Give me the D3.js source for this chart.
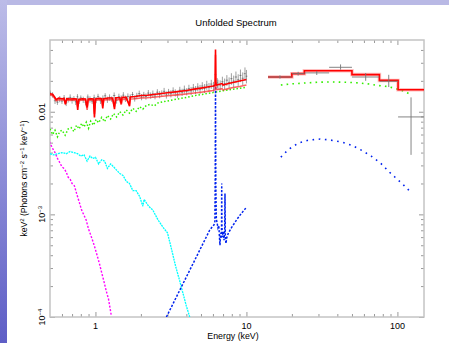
<!DOCTYPE html>
<html><head><meta charset="utf-8">
<script src="https://cdn.jsdelivr.net/npm/d3@7"></script>
<style>body{margin:0;background:#fff}svg{display:block}text{font-family:"Liberation Sans",Arial,Helvetica,sans-serif;fill:#000}</style>
</head><body><svg id="c" width="449" height="343"></svg>
<script>
// ---------- data ----------
const title = "Unfolded Spectrum";
const xLabel = "Energy (keV)";
const xMajor = [1, 10, 100];
const xMajorLabels = ["1", "10", "100"];
const xMinor = [0.6,0.7,0.8,0.9,2,3,4,5,6,7,8,9,20,30,40,50,60,70,80,90];
const yMajor = [1e-4, 1e-3, 0.01];
const yMajorLabels = [["10","−4"],["10","−3"],["0.01",""]];
const yMinor = [2e-4,3e-4,4e-4,5e-4,6e-4,7e-4,8e-4,9e-4,2e-3,3e-3,4e-3,5e-3,6e-3,7e-3,8e-3,9e-3,0.02,0.03,0.04];

// black data, 0.5-10 keV (energy, value, fractional error)
const blackE = [0.50,0.52,0.54,0.56,0.58,0.60,0.62,0.64,0.66,0.68,0.70,0.72,0.74,0.76,0.78,0.80,0.83,0.86,0.89,0.92,0.95,0.98,1.01,1.04,1.08,1.12,1.16,1.20,1.24,1.28,1.33,1.38,1.43,1.48,1.53,1.58,1.64,1.70,1.76,1.82,1.88,1.95,2.02,2.09,2.16,2.24,2.32,2.40,2.48,2.57,2.66,2.75,2.85,2.95,3.05,3.16,3.27,3.38,3.50,3.62,3.75,3.88,4.02,4.16,4.30,4.45,4.60,4.76,4.93,5.10,5.28,5.46,5.65,5.85,6.05,6.24,6.40,6.48,6.70,6.93,7.17,7.42,7.68,7.95,8.23,8.52,8.82,9.13,9.45,9.78,10.0];
const blackV = [0.0152,0.0146,0.0128,0.0124,0.0133,0.0127,0.0136,0.0122,0.0131,0.0138,0.0129,0.0134,0.0125,0.0140,0.0128,0.0136,0.0131,0.0124,0.0139,0.0132,0.0127,0.0137,0.0130,0.0141,0.0128,0.0135,0.0143,0.0131,0.0138,0.0133,0.0144,0.0129,0.0140,0.0136,0.0145,0.0134,0.0141,0.0138,0.0147,0.0135,0.0143,0.0150,0.0139,0.0146,0.0141,0.0152,0.0144,0.0149,0.0142,0.0155,0.0147,0.0151,0.0158,0.0146,0.0156,0.0150,0.0160,0.0153,0.0148,0.0162,0.0155,0.0165,0.0157,0.0168,0.0160,0.0171,0.0163,0.0174,0.0166,0.0178,0.0169,0.0182,0.0173,0.0186,0.0176,0.0230,0.0192,0.0185,0.0182,0.0196,0.0188,0.0203,0.0193,0.0210,0.0199,0.0218,0.0205,0.0226,0.0212,0.0235,0.0222];
const blackErr = [0.06,0.06,0.07,0.06,0.07,0.06,0.07,0.07,0.06,0.07,0.07,0.06,0.07,0.06,0.07,0.06,0.07,0.07,0.06,0.07,0.06,0.07,0.07,0.06,0.07,0.07,0.06,0.07,0.07,0.06,0.07,0.07,0.07,0.06,0.07,0.07,0.07,0.07,0.06,0.07,0.07,0.07,0.07,0.07,0.07,0.07,0.07,0.08,0.07,0.07,0.08,0.07,0.08,0.08,0.07,0.08,0.08,0.08,0.08,0.08,0.08,0.09,0.08,0.09,0.09,0.09,0.09,0.09,0.10,0.09,0.10,0.10,0.10,0.10,0.11,0.12,0.11,0.11,0.11,0.12,0.12,0.12,0.12,0.13,0.13,0.13,0.13,0.14,0.14,0.15,0.15];

// red model, 0.5-10 keV (two detectors)
const redE = [0.50,0.52,0.535,0.55,0.57,0.60,0.62,0.632,0.645,0.68,0.72,0.75,0.763,0.775,0.82,0.86,0.881,0.895,0.94,0.97,0.985,1.0,1.06,1.10,1.118,1.135,1.22,1.30,1.337,1.36,1.45,1.482,1.50,1.60,1.682,1.70,1.84,2.0,2.2,2.5,3.0,3.5,4.0,4.5,5.0,5.5,6.0,6.18,6.21,6.24,6.27,6.35,6.9,7.0,7.5,8.0,9.0,10.0];
const redV1 = [0.0150,0.0148,0.0140,0.0131,0.0136,0.0134,0.0135,0.0118,0.0134,0.0133,0.0134,0.0133,0.0104,0.0132,0.0134,0.0133,0.0110,0.0133,0.0134,0.0133,0.0088,0.0133,0.0135,0.0134,0.0108,0.0134,0.0136,0.0136,0.0106,0.0137,0.0137,0.0120,0.0138,0.0138,0.0113,0.0139,0.0141,0.0144,0.0145,0.0148,0.0153,0.0157,0.0161,0.0166,0.0170,0.0174,0.0178,0.0180,0.0190,0.0403,0.0190,0.0182,0.0188,0.0182,0.0187,0.0192,0.0199,0.0206];
const redV2 = [0.0146,0.0143,0.0136,0.0128,0.0131,0.0130,0.0131,0.0122,0.0130,0.0129,0.0130,0.0129,0.0112,0.0128,0.0130,0.0129,0.0104,0.0129,0.0130,0.0129,0.0095,0.0129,0.0131,0.0130,0.0115,0.0130,0.0131,0.0131,0.0112,0.0132,0.0131,0.0117,0.0132,0.0132,0.0120,0.0133,0.0134,0.0136,0.0137,0.0139,0.0143,0.0146,0.0149,0.0152,0.0155,0.0158,0.0161,0.0163,0.0170,0.0360,0.0170,0.0164,0.0168,0.0163,0.0167,0.0171,0.0176,0.0182];

// hard band: bins, data and model steps
const hiEdges = [13.9, 20, 24.2, 35.3, 50, 76, 101, 150];
const hiData  = [0.0218, 0.0235, 0.0239, 0.0271, 0.0218, 0.0198, 0.0089];
const hiErrLo = [0.0210, 0.0225, 0.0228, 0.0257, 0.0200, 0.0174, 0.0038];
const hiErrHi = [0.0226, 0.0245, 0.0250, 0.0289, 0.0238, 0.0229, 0.0138];
const hiModel = [0.0218, 0.0235, 0.0251, 0.0251, 0.0230, 0.0202, 0.0164];

// green component
const greenLoE = [0.50,0.52,0.54,0.56,0.58,0.60,0.63,0.66,0.69,0.72,0.75,0.78,0.81,0.84,0.87,0.90,0.93,0.97,1.01,1.05,1.10,1.15,1.20,1.26,1.32,1.38,1.45,1.52,1.60,1.68,1.77,1.86,1.96,2.06,2.17,2.30,2.45,2.60,2.80,3.00,3.30,3.60,4.00,4.50,5.00,5.60,6.30,7.00,8.00,9.00,10.0];
const greenLoV = [0.0068,0.0060,0.0066,0.0057,0.0064,0.0066,0.0059,0.0068,0.0070,0.0064,0.0074,0.0068,0.0077,0.0071,0.0079,0.0069,0.0081,0.0074,0.0084,0.0078,0.0088,0.0080,0.0092,0.0085,0.0096,0.0089,0.0100,0.0093,0.0104,0.0097,0.0108,0.0101,0.0112,0.0106,0.0115,0.0118,0.0114,0.0122,0.0125,0.0127,0.0131,0.0134,0.0138,0.0143,0.0147,0.0151,0.0156,0.0160,0.0165,0.0169,0.0173];
const greenHiE = [16.9, 20, 25, 30, 36.8, 45, 55, 65, 75, 87, 100, 108, 117, 125];
const greenHiV = [0.0182,0.0187,0.0191,0.0194,0.0195,0.0194,0.0191,0.0186,0.0180,0.0176,0.0166,0.0160,0.0152,0.0144];

// cyan component
const cyanE = [0.50,0.53,0.56,0.60,0.64,0.68,0.72,0.76,0.80,0.84,0.88,0.92,0.96,1.00,1.05,1.10,1.15,1.20,1.26,1.32,1.38,1.45,1.52,1.60,1.68,1.77,1.86,1.96,2.06,2.10,2.25,2.40,2.60,2.80,3.00,3.20,3.40,3.60,3.80,4.00,4.21];
const cyanV = [0.0039,0.0038,0.0039,0.0040,0.0039,0.0041,0.0040,0.0039,0.0037,0.0038,0.0033,0.0037,0.0035,0.0036,0.0031,0.0034,0.0033,0.0028,0.0031,0.0029,0.0027,0.0025,0.0024,0.0021,0.0020,0.0017,0.0017,0.0015,0.0012,0.0014,0.0012,0.0011,0.00088,0.00075,0.00066,0.00045,0.00031,0.00023,0.00017,0.000128,0.0001];

// magenta component
const magE = [0.495,0.52,0.54,0.561,0.58,0.60,0.62,0.639,0.66,0.68,0.70,0.725,0.75,0.783,0.81,0.84,0.868,0.90,0.93,0.96,0.985,1.02,1.063,1.10,1.14,1.178,1.22,1.271];
const magV = [0.0051,0.0044,0.0040,0.0035,0.0032,0.0029,0.0028,0.0026,0.0023,0.0022,0.0020,0.0019,0.0016,0.0013,0.0011,0.00098,0.00088,0.00072,0.00063,0.00055,0.00049,0.00041,0.00033,0.00027,0.00022,0.00018,0.00015,0.000105];

// blue component
const blueLoE = [2.95,3.3,3.7,4.1,4.5,4.9,5.3,5.7,5.95,6.1,6.18,6.21,6.24,6.27,6.32,6.4,6.48,6.56,6.62,6.68,6.74,6.80,6.84,6.86,6.88,6.93,7.0,7.1,7.18,7.21,7.25,7.32,7.4,7.6,8.0,8.5,9.0,9.5,9.9];
const blueLoV = [1.0e-4,1.39e-4,1.95e-4,2.64e-4,3.47e-4,4.47e-4,5.63e-4,6.98e-4,7.6e-4,7.9e-4,8.5e-4,0.0021,0.0177,0.0019,0.0009,0.00082,0.00074,0.00078,0.00062,0.00050,0.00066,0.00058,0.00072,0.0020,0.00080,0.00060,0.00068,0.00056,0.00070,0.0016,0.00060,0.00052,0.00059,0.00066,0.00075,0.00086,0.00097,0.00107,0.00115];
const blueHiE = [16.9, 19, 22.1, 26, 30.8, 36, 42.8, 50, 58.3, 67, 77.3, 88, 101.8, 112, 123.3];
const blueHiV = [0.00361,0.0043,0.00495,0.0053,0.00542,0.0053,0.00506,0.0047,0.00419,0.0037,0.00316,0.0026,0.00214,0.00188,0.00163];

// ---------- drawing ----------
const svg = d3.select('#c');
const W = 449, H = 343;
const L = 50, R = 424, T = 40, B = 317;
const defs = svg.append('defs');
const lg = defs.append('linearGradient').attr('id','lg').attr('x1',0).attr('y1',0).attr('x2',0).attr('y2',1);
lg.append('stop').attr('offset','0%').attr('stop-color','#bcbce8');
lg.append('stop').attr('offset','100%').attr('stop-color','#5e5ec6');
defs.append('clipPath').attr('id','clip').append('rect').attr('x',L).attr('y',T).attr('width',R-L).attr('height',B-T);

svg.append('rect').attr('width',W).attr('height',H).attr('fill','#fff');
svg.append('rect').attr('x',0).attr('y',0).attr('width',W).attr('height',5).attr('fill','#b9b9e5');
svg.append('rect').attr('x',0).attr('y',0).attr('width',7).attr('height',H).attr('fill','url(#lg)');

const x = d3.scaleLog().domain([0.5,150]).range([L,R]);
const y = d3.scaleLog().domain([1e-4,0.05]).range([B,T]);

// axes (ticks inward, all four sides)
const tickCol = '#9a9a9a';
function styleAxis(sel){
  sel.select('.domain').remove();
  sel.selectAll('.tick line').attr('stroke',tickCol).attr('stroke-width',1);
  sel.selectAll('.tick text').remove();
}
svg.append('g').attr('transform',`translate(0,${B})`).call(d3.axisBottom(x).tickValues(xMajor).tickSize(-5)).call(styleAxis);
svg.append('g').attr('transform',`translate(0,${B})`).call(d3.axisBottom(x).tickValues(xMinor).tickSize(-3)).call(styleAxis);
svg.append('g').attr('transform',`translate(0,${T})`).call(d3.axisTop(x).tickValues(xMajor).tickSize(-5)).call(styleAxis);
svg.append('g').attr('transform',`translate(0,${T})`).call(d3.axisTop(x).tickValues(xMinor).tickSize(-3)).call(styleAxis);
svg.append('g').attr('transform',`translate(${L},0)`).call(d3.axisLeft(y).tickValues(yMajor).tickSize(-5)).call(styleAxis);
svg.append('g').attr('transform',`translate(${L},0)`).call(d3.axisLeft(y).tickValues(yMinor).tickSize(-3)).call(styleAxis);
svg.append('g').attr('transform',`translate(${R},0)`).call(d3.axisRight(y).tickValues(yMajor).tickSize(-5)).call(styleAxis);
svg.append('g').attr('transform',`translate(${R},0)`).call(d3.axisRight(y).tickValues(yMinor).tickSize(-3)).call(styleAxis);
svg.append('rect').attr('x',L).attr('y',T).attr('width',R-L).attr('height',B-T)
  .attr('fill','none').attr('stroke','#c4c4c4').attr('stroke-width',1.5);

// tick labels
svg.append('g').selectAll('text').data(xMajor).join('text')
  .attr('x',d=>x(d)).attr('y',329).attr('text-anchor','middle').attr('font-size',9)
  .text((d,i)=>xMajorLabels[i]);
const yl = svg.append('g').selectAll('text').data(yMajor).join('text')
  .attr('transform',d=>`translate(45,${y(d)}) rotate(-90)`).attr('text-anchor','middle').attr('font-size',9);
yl.append('tspan').text((d,i)=>yMajorLabels[i][0]);
yl.append('tspan').attr('dy',-3.5).attr('font-size',6).text((d,i)=>yMajorLabels[i][1]);

// titles
svg.append('text').attr('x',236).attr('y',26).attr('text-anchor','middle').attr('font-size',9.5).text(title);
svg.append('text').attr('x',233).attr('y',339).attr('text-anchor','middle').attr('font-size',8.8).text(xLabel);
const ylab = svg.append('text').attr('transform',`translate(26.5,${(T+B)/2}) rotate(-90)`)
  .attr('text-anchor','middle').attr('font-size',8.6);
[["keV",0],["2",-3],[" (Photons cm",3],["−2",-3],[" s",3],["−1",-3],[" keV",3],["−1",-3],[")",3]].forEach((p,i)=>{
  const t = ylab.append('tspan').text(p[0]);
  if (i>0) t.attr('dy',p[1]);
  if (p[1]<0) t.attr('font-size',6);
});

// plot content
const plot = svg.append('g').attr('clip-path','url(#clip)');
const line = d3.line().x(d=>x(d[0])).y(d=>y(d[1]));

function comp(E,V,color,dash,w){
  plot.append('path').datum(d3.zip(E,V)).attr('d',line).attr('fill','none')
    .attr('stroke',color).attr('stroke-width',w).attr('stroke-dasharray',dash);
}
comp(magE,magV,'#ff00ff','2,1.6',1.4);
comp(cyanE,cyanV,'#00ffff','2,0.8',1.3);
comp(greenLoE,greenLoV,'#33ee00','1.5,2',1.5);
comp(greenHiE,greenHiV,'#33ee00','1.6,4.2',1.6);
comp(blueLoE,blueLoV,'#0022ee','2.2,1.6',1.5);
comp(blueHiE,blueHiV,'#0022ee','1.6,4.6',1.6);

// black low-energy data crosses
const blk = plot.append('g').attr('stroke','#222').attr('stroke-opacity',0.55).attr('stroke-width',0.8);
blackE.forEach((e,i)=>{
  const lo = i>0 ? Math.sqrt(blackE[i-1]*e) : e*0.98;
  const hi = i<blackE.length-1 ? Math.sqrt(blackE[i+1]*e) : e*1.015;
  const v = blackV[i], er = blackErr[i];
  blk.append('line').attr('x1',x(e)).attr('x2',x(e)).attr('y1',y(v*(1-er))).attr('y2',y(v*(1+er)));
  blk.append('line').attr('x1',x(lo)).attr('x2',x(hi)).attr('y1',y(v)).attr('y2',y(v));
});

// red model lines
plot.append('path').datum(d3.zip(redE,redV2)).attr('d',line).attr('fill','none').attr('stroke','#ff3030').attr('stroke-opacity',0.75).attr('stroke-width',1.6);
plot.append('path').datum(d3.zip(redE,redV1)).attr('d',line).attr('fill','none').attr('stroke','#ff0000').attr('stroke-width',1.6);

// hard band model steps
const steps = [];
hiModel.forEach((v,i)=>{ steps.push([hiEdges[i],v]); steps.push([hiEdges[i+1],v]); });
plot.append('path').datum(steps).attr('d',line).attr('fill','none').attr('stroke','#ff8080').attr('stroke-opacity',0.5).attr('stroke-width',3.5);
plot.append('path').datum(steps).attr('d',line).attr('fill','none').attr('stroke','#ff0000').attr('stroke-width',1.6);

// hard band data crosses
const hb = plot.append('g').attr('stroke','#777').attr('stroke-width',0.9);
hiData.forEach((v,i)=>{
  const xc = Math.sqrt(hiEdges[i]*hiEdges[i+1]);
  hb.append('line').attr('x1',x(hiEdges[i])).attr('x2',x(hiEdges[i+1])).attr('y1',y(v)).attr('y2',y(v));
  hb.append('line').attr('x1',x(xc)).attr('x2',x(xc)).attr('y1',y(hiErrLo[i])).attr('y2',y(hiErrHi[i]));
});
</script></body></html>
